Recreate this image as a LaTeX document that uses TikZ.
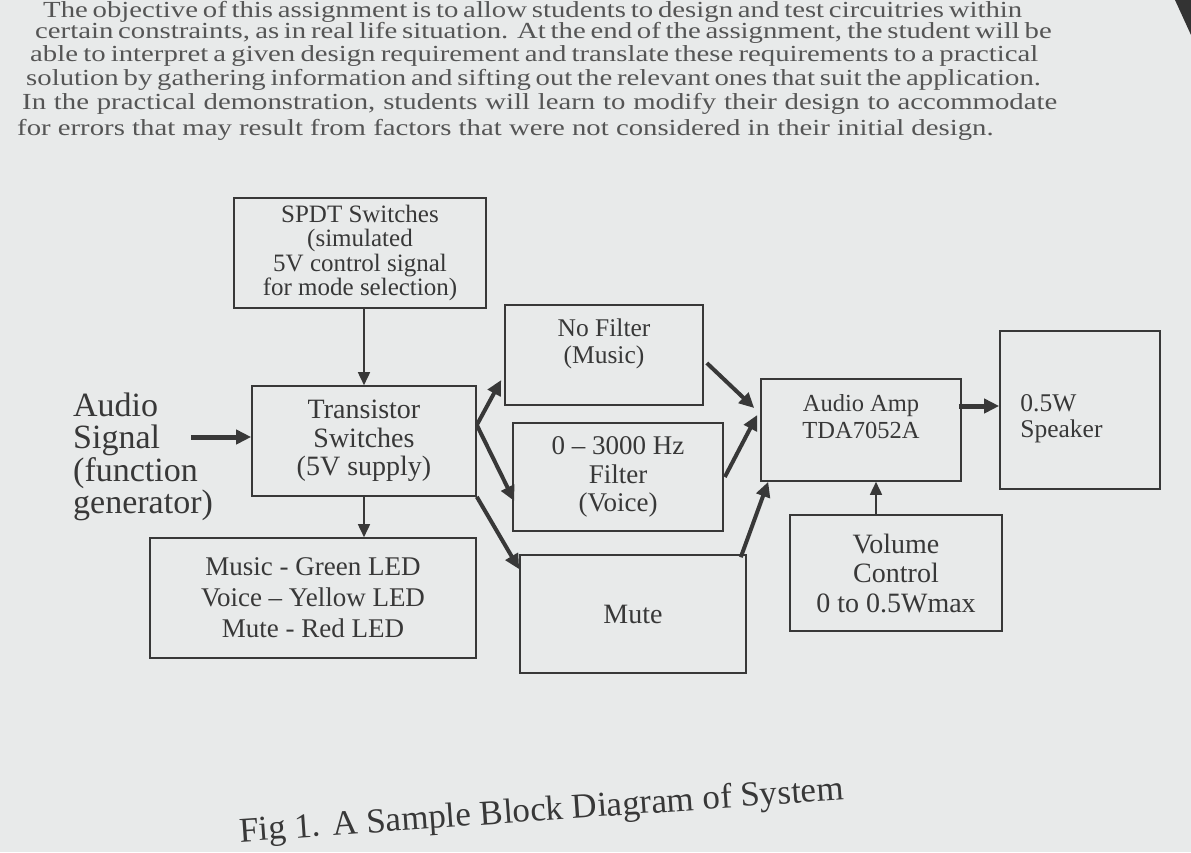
\documentclass[tikz,border=0pt]{standalone}
\usepackage{fontspec}
\usepackage{graphicx}
\setmainfont{Liberation Serif}
\usetikzlibrary{arrows.meta,calc}
\definecolor{paper}{HTML}{E8EAEA}
\definecolor{ink}{HTML}{383838}
\definecolor{print}{HTML}{555555}
\newcommand{\fs}[2]{\fontsize{#1}{#2}\selectfont}
\newcommand{\pline}[2]{\scalebox{1.25}[1]{\makebox[\dimexpr #1pt*4/5\relax][s]{#2}}}
\begin{document}
\begin{tikzpicture}[x=1pt,y=-1pt,
  blk/.style={draw=ink, line width=1.6pt, align=center, text=ink, inner sep=0pt},
  thk/.style={draw=ink, line width=4pt, -{Triangle[length=15pt,width=14pt]}},
  thn/.style={draw=ink, line width=1.6pt, -{Triangle[length=13pt,width=12pt]}},
  para/.style={text=print, inner sep=0pt, anchor=west, font=\fs{23}{24}}]
\fill[paper] (0,0) rectangle (1191,852);
\clip (0,0) rectangle (1191,852);
\fill[black!80] (1175,0) -- (1191,0) -- (1191,35) -- cycle;
% paragraph
\node[para] (p1) at (43,12) {\pline{977}{The objective of this assignment is to allow students to design and test circuitries within}};
\node[para] (p2) at (35,33) {\pline{997}{certain constraints, as in real life situation. At the end of the assignment, the student will be}};
\node[para] (p3) at (30,56) {\pline{1008}{able to interpret a given design requirement and translate these requirements to a practical}};
\node[para] (p4) at (26,80) {\pline{1012}{solution by gathering information and sifting out the relevant ones that suit the application.}};
\node[para] (p5) at (22,104) {\pline{1035}{In the practical demonstration, students will learn to modify their design to accommodate}};
\node[para] (p6) at (17,130) {\scalebox{1.25}[1]{for errors that may result from factors that were not considered in their initial design.}};
% blocks
\node[blk, minimum width=252pt, minimum height=110pt, font=\fs{25}{24.5}] (spdt) at (360,253) {SPDT Switches\\(simulated\\5V control signal\\for mode selection)};
\node[blk, minimum width=224pt, minimum height=110pt, font=\fs{28}{28.5}] (trans) at (364,441) {Transistor\\Switches\\(5V supply)};
\node[anchor=west, align=left, text=ink, inner sep=0pt, font=\fs{34}{32.5}] (audio) at (73,457) {Audio\\Signal\\(function\\generator)};
\node[blk, minimum width=326pt, minimum height=120pt, font=\fs{27}{31}] (led) at (313,598) {Music - Green LED\\Voice – Yellow LED\\Mute - Red LED};
\node[blk, minimum width=198pt, minimum height=100pt, font=\fs{25.5}{27}] (nf) at (604,355) {No Filter\\(Music)\\\mbox{}};
\node[blk, minimum width=210pt, minimum height=108pt, font=\fs{27}{28.5}] (filt) at (618,477) {0 – 3000 Hz\\Filter\\(Voice)};
\node[blk, minimum width=226pt, minimum height=118pt, font=\fs{28}{30}] (mute) at (633,614) {Mute};
\node[blk, minimum width=200pt, minimum height=102pt, font=\fs{24.5}{27}] (amp) at (861,430) {Audio Amp\\TDA7052A\\\mbox{}};
\node[blk, minimum width=212pt, minimum height=116pt, font=\fs{28}{29.5}] (vol) at (896,573) {Volume\\Control\\0 to 0.5Wmax};
\node[blk, minimum width=160pt, minimum height=158pt] (spk) at (1080,410) {};
\node[anchor=west, align=left, text=ink, inner sep=0pt, font=\fs{25.5}{26}] (spkt) at ($(spk.west)+(21,9)$) {0.5W\\Speaker};
% connectors
\draw[thn] (spdt.south -| trans.north) -- (trans.north);
\draw[thn] (trans.south) -- (trans.south |- led.north);
\coordinate (ain) at ($(audio.east)+(-22,-20)$);
\draw[thk, line width=5pt] (ain) -- (ain -| trans.west);
\coordinate (split) at ($(trans.east)+(0,-16)$);
\draw[thk] (split) -- ($(nf.west)+(-3,25)$);
\draw[thk] (split) -- ($(filt.west)+(2,24)$);
\draw[thk] (trans.south east) -- ($(mute.north west)+(0,15)$);
\draw[thk] ($(nf.east)+(3,8)$) -- ($(amp.west)+(-6,-22)$);
\draw[thk] ($(filt.east)+(1,0)$) -- ($(amp.west)+(-3,-15)$);
\draw[thk] ($(mute.north east)+(-6,3)$) -- ($(amp.south west)+(8,0)$);
\coordinate (vn) at ($(vol.north)+(-20,0)$);
\draw[thn] (vn) -- (vn |- amp.south);
\coordinate (ao) at ($(amp.east)+(-3,-24)$);
\draw[thk, line width=5pt] (ao) -- (ao -| spk.west);
% caption
\node[text=ink, font=\fs{35}{36}, rotate=4, anchor=base west, inner sep=0pt] (cap) at (240,842) {Fig 1. A Sample Block Diagram of System};
\end{tikzpicture}
\end{document}
